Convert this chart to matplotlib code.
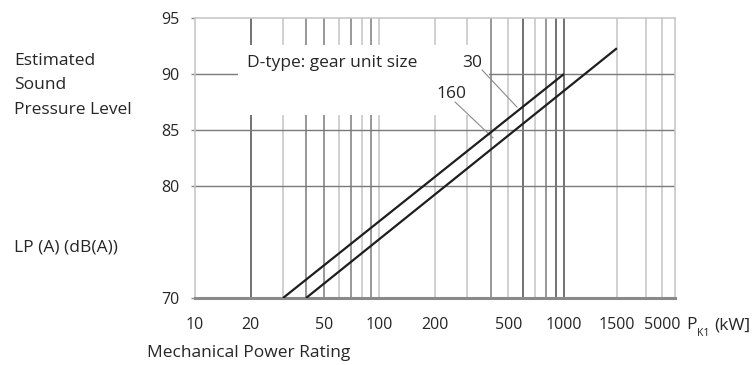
import numpy as np
import matplotlib
matplotlib.use("Agg")
import matplotlib.pyplot as plt
from matplotlib.patches import Rectangle
from matplotlib.ticker import FixedLocator, FixedFormatter

plt.rcParams['font.family'] = ['Open Sans', 'DejaVu Sans']

# Sound pressure level vs. mechanical power, per gear unit size
size_30_kw = [30, 1000]
size_30_db = [70, 90]
size_160_kw = [40, 1000, 1500]
size_160_db = [70, 88.5, 92.3]

x_ticks = [10, 20, 50, 100, 200, 500, 1000, 1500, 5000]
x_tick_labels = ["10", "20", "50", "100", "200", "500", "1000", "1500", "5000"]
y_ticks = [70, 80, 85, 90, 95]
y_tick_labels = ["70", "80", "85", "90", "95"]

grid_dark = [20, 600, 900, 1000]
grid_mid = [40, 50, 70, 90, 400, 800]
grid_light = [30, 60, 80, 100, 200, 300, 500, 700, 1500, 2000, 5000]
grid_h = [80, 85, 90]

# Logarithmic up to 1000 kW, compressed beyond
knot_v = np.log10([1, 1000, 1500, 2000, 5000, 6000])
knot_u = np.array([0, 3, 3.287, 3.444, 3.531, 3.602])


def forward(v):
    v = np.clip(np.asarray(v, dtype=float), 1e-6, None)
    return np.interp(np.log10(v), knot_v, knot_u)


def inverse(u):
    return 10 ** np.interp(np.asarray(u, dtype=float), knot_u, knot_v)


fig = plt.figure(figsize=(7.56, 3.65), dpi=100)
ax = fig.add_axes([195 / 756, 1 - 298 / 365, 480 / 756, 280 / 365])
ax.set_xscale('function', functions=(forward, inverse))
ax.set_xlim(10, 6000)
ax.set_ylim(70, 95)

txt = '#262626'
fs = 12.5
fs_tick = 11.5

for v in grid_light:
    ax.axvline(v, color='#c4c4c4', lw=1.1, zorder=1)
for v in grid_mid:
    ax.axvline(v, color='#7c7c7c', lw=1.1, zorder=1)
for v in grid_dark:
    ax.axvline(v, color='#5a5a5a', lw=1.2, zorder=1)
for h in grid_h:
    ax.axhline(h, color='#7a7a7a', lw=1.0, zorder=1)

# blank area behind the label block
ax.add_patch(Rectangle((43 / 480, 0.654), 251 / 480, 0.25, transform=ax.transAxes,
                       facecolor='white', edgecolor='none', zorder=2))

ax.plot(size_30_kw, size_30_db, color='#1e1e1e', lw=1.6, zorder=4, solid_capstyle='butt')
ax.plot(size_160_kw, size_160_db, color='#1e1e1e', lw=1.6, zorder=4, solid_capstyle='butt')

ax.text(0.108, 0.839, "D-type: gear unit size", transform=ax.transAxes,
        ha='left', va='center', fontsize=fs, color=txt, zorder=5)

# size labels with leader lines
ax.text(317, 90.98, "30", ha='center', va='center', fontsize=fs, color=txt, zorder=5)
ax.plot([360, 556], [90.36, 87.05], color='#8a8a8a', lw=0.8, zorder=3)
ax.text(244, 88.2, "160", ha='center', va='center', fontsize=fs, color=txt, zorder=5)
ax.plot([257, 412], [87.5, 84.3], color='#8a8a8a', lw=0.8, zorder=3)

for s in ['top', 'right', 'left']:
    ax.spines[s].set_color('#c4c4c4')
    ax.spines[s].set_linewidth(1.1)
ax.spines['bottom'].set_color('#8a8a8a')
ax.spines['bottom'].set_linewidth(2.2)

ax.xaxis.set_major_locator(FixedLocator(x_ticks))
ax.xaxis.set_major_formatter(FixedFormatter(x_tick_labels))
ax.xaxis.set_minor_locator(FixedLocator([]))
ax.set_yticks(y_ticks)
ax.set_yticklabels(y_tick_labels)
ax.tick_params(axis='x', length=0, pad=14, labelsize=fs_tick, labelcolor=txt)
ax.tick_params(axis='y', length=3, width=1, color='#8a8a8a', pad=8.5,
               labelsize=fs_tick, labelcolor=txt)

fig.text(14 / 756, 1 - 61 / 365, "Estimated", ha='left', va='center', fontsize=fs, color=txt)
fig.text(14 / 756, 1 - 85 / 365, "Sound", ha='left', va='center', fontsize=fs, color=txt)
fig.text(14 / 756, 1 - 110 / 365, "Pressure Level", ha='left', va='center', fontsize=fs, color=txt)
fig.text(14 / 756, 1 - 248 / 365, "LP (A) (dB(A))", ha='left', va='center', fontsize=fs, color=txt)
fig.text(147 / 756, 1 - 353 / 365, "Mechanical Power Rating", ha='left', va='center',
         fontsize=fs, color=txt)

fig.text(686 / 756, 1 - 325 / 365, "P", ha='left', va='center', fontsize=fs, color=txt)
fig.text(697 / 756, 1 - 334 / 365, "K1", ha='left', va='center', fontsize=7.5, color=txt)
fig.text(714 / 756, 1 - 325 / 365, "(kW]", ha='left', va='center', fontsize=fs, color=txt)

fig.savefig("out.png", dpi=100, facecolor='white')
